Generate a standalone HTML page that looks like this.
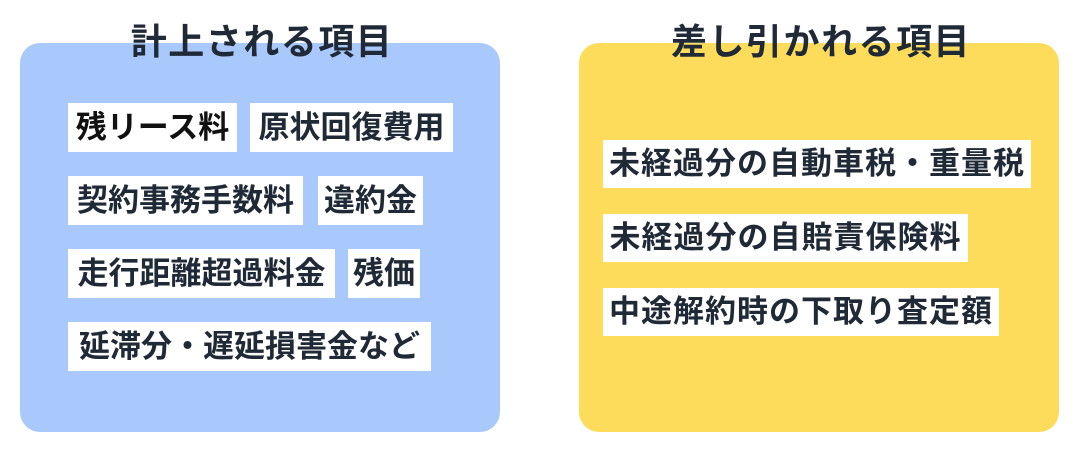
<!DOCTYPE html>
<html><head><meta charset="utf-8"><style>
body{margin:0;width:1080px;height:452px;background:#fff;position:relative;overflow:hidden;font-family:"Liberation Sans","Noto Sans CJK JP",sans-serif;font-weight:bold;color:#1f2a36}
.box{position:absolute;top:43px;width:480px;height:389px;border-radius:20px}
.t{position:absolute;top:18px;font-size:36px;letter-spacing:1.5px;line-height:48px;text-align:center;width:480px}
.l{position:absolute;background:#fff;height:49px;line-height:49px;font-size:31px;text-align:center;white-space:nowrap;box-sizing:border-box}
.L{letter-spacing:0px}
.R{letter-spacing:1px;height:48px;line-height:48px}
</style></head><body>
<div class="box" style="left:20px;background:#a9c8fb"></div>
<div class="box" style="left:579px;background:#fddc5c"></div>
<div class="t" style="left:22px">計上される項目</div>
<div class="t" style="left:581px">差し引かれる項目</div>

<div class="l L" style="left:68px;top:103px;width:169px;color:#111">残リース料</div>
<div class="l L" style="left:250px;top:103px;width:203px">原状回復費用</div>
<div class="l L" style="left:68px;top:176px;width:235px">契約事務手数料</div>
<div class="l L" style="left:318px;top:176px;width:105px">違約金</div>
<div class="l L" style="left:68px;top:249px;width:267px">走行距離超過料金</div>
<div class="l L" style="left:348px;top:249px;width:72px">残価</div>
<div class="l L" style="left:68px;top:322px;width:363px">延滞分・遅延損害金など</div>

<div class="l R" style="left:603px;top:140px;width:428px">未経過分の自動車税・重量税</div>
<div class="l R" style="left:603px;top:214px;width:365px">未経過分の自賠責保険料</div>
<div class="l R" style="left:603px;top:288px;width:396px">中途解約時の下取り査定額</div>
</body></html>
